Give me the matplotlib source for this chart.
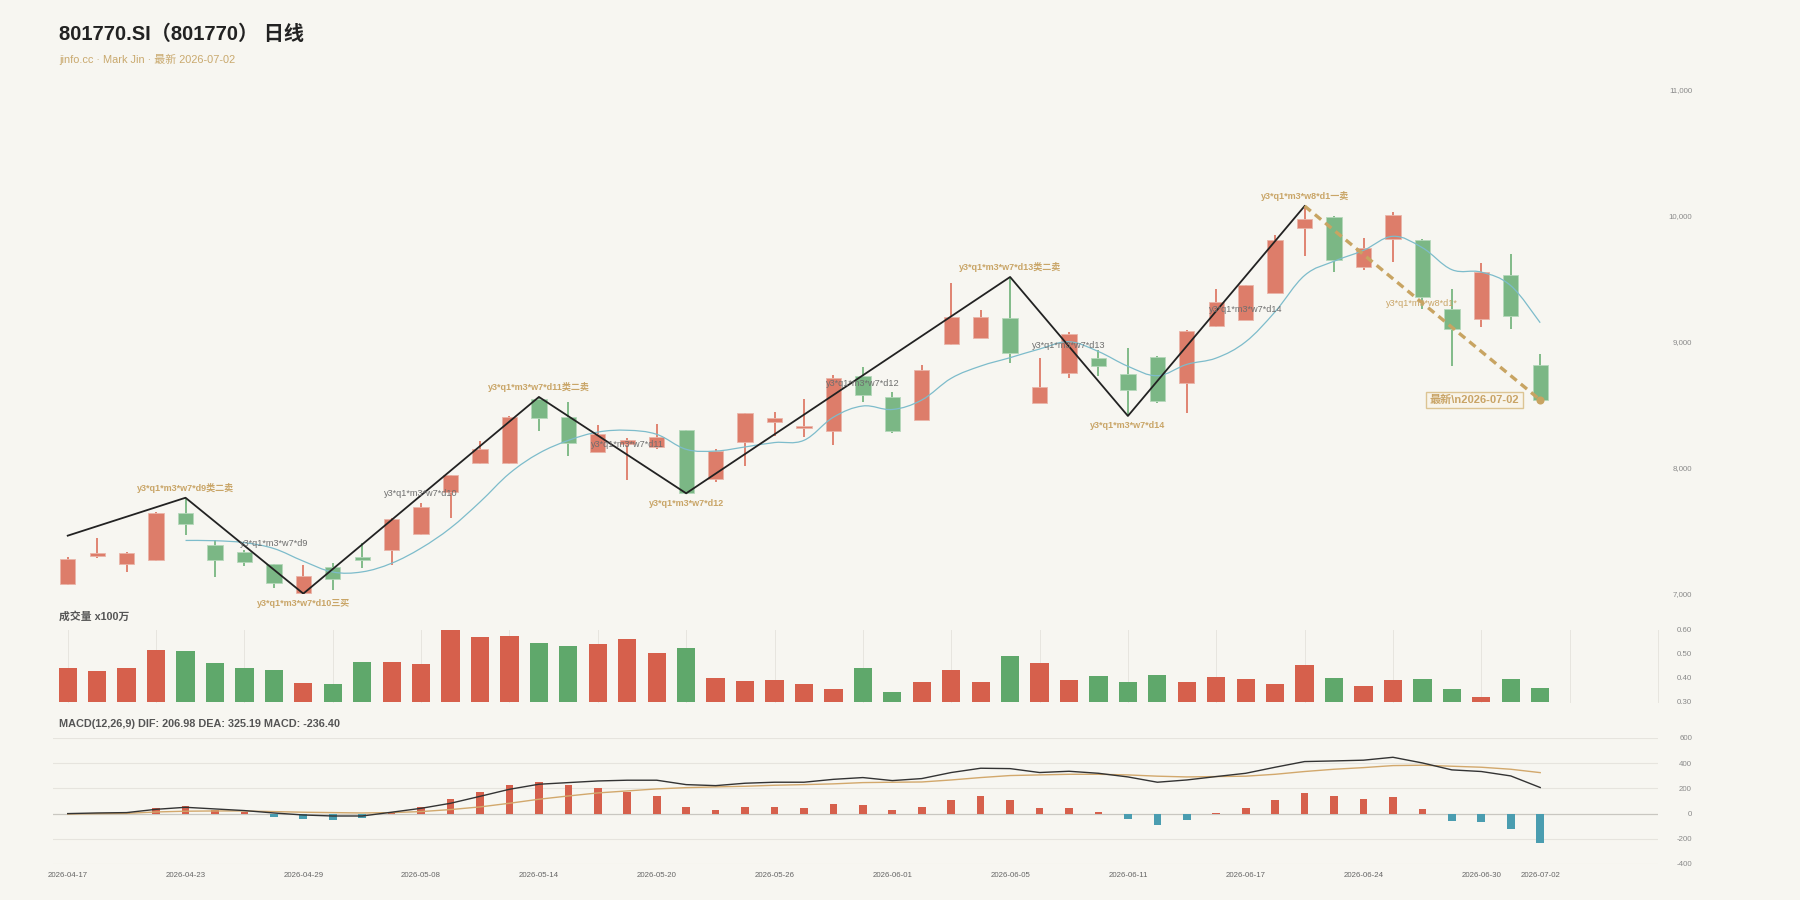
import matplotlib
matplotlib.use('Agg')
import matplotlib.pyplot as plt
import numpy as np
import pandas as pd
from matplotlib.path import Path
from matplotlib.patches import PathPatch

plt.rcParams['font.family'] = ['Liberation Sans', 'Noto Sans CJK SC']

# ---------------- data ----------------
dates = ['2026-04-17', '2026-04-20', '2026-04-21', '2026-04-22', '2026-04-23', '2026-04-24',
         '2026-04-27', '2026-04-28', '2026-04-29', '2026-04-30', '2026-05-06', '2026-05-07',
         '2026-05-08', '2026-05-11', '2026-05-12', '2026-05-13', '2026-05-14', '2026-05-15',
         '2026-05-18', '2026-05-19', '2026-05-20', '2026-05-21', '2026-05-22', '2026-05-25',
         '2026-05-26', '2026-05-27', '2026-05-28', '2026-05-29', '2026-06-01', '2026-06-02',
         '2026-06-03', '2026-06-04', '2026-06-05', '2026-06-08', '2026-06-09', '2026-06-10',
         '2026-06-11', '2026-06-12', '2026-06-15', '2026-06-16', '2026-06-17', '2026-06-18',
         '2026-06-22', '2026-06-23', '2026-06-24', '2026-06-25', '2026-06-26', '2026-06-29',
         '2026-06-30', '2026-07-01', '2026-07-02']

opens = [7079, 7304, 7236, 7267, 7640, 7389, 7333, 7236, 7005, 7217,
         7296, 7347, 7479, 7807, 8037, 8037, 8548, 8405, 8129, 8191,
         8164, 8302, 7913, 8204, 8363, 8315, 8294, 8728, 8564, 8381,
         8984, 9035, 9193, 8519, 8754, 8871, 8749, 8884, 8672, 9125,
         9178, 9392, 9907, 9992, 9598, 9818, 9813, 9260, 9183, 9532, 8815]
closes = [7278, 7328, 7323, 7643, 7553, 7267, 7251, 7090, 7143, 7122,
          7272, 7595, 7690, 7942, 8153, 8405, 8394, 8201, 8272, 8225,
          8244, 7799, 8133, 8434, 8400, 8333, 8717, 8577, 8296, 8775,
          9196, 9201, 8910, 8640, 9063, 8807, 8617, 8535, 9090, 9315,
          9453, 9810, 9974, 9653, 9746, 10011, 9357, 9103, 9556, 9209, 8540]
highs = [7290, 7447, 7331, 7651, 7764, 7429, 7349, 7240, 7230, 7243,
         7402, 7600, 7725, 7945, 8217, 8410, 8564, 8521, 8344, 8236,
         8349, 8305, 8151, 8436, 8447, 8550, 8738, 8802, 8606, 8818,
         9466, 9254, 9516, 8871, 9077, 8937, 8955, 8890, 9095, 9421,
         9455, 9847, 10079, 9998, 9826, 10029, 9815, 9421, 9624, 9699, 8905]
lows = [7070, 7288, 7175, 7262, 7468, 7135, 7220, 7050, 7003, 7032,
        7204, 7230, 7470, 7601, 8030, 8035, 8296, 8098, 8125, 7905,
        8151, 7795, 7886, 8016, 8254, 8249, 8183, 8521, 8275, 8378,
        8980, 9030, 8833, 8515, 8712, 8728, 8413, 8513, 8434, 9117,
        9175, 9390, 9683, 9558, 9572, 9638, 9262, 8810, 9122, 9103, 8535]

volumes = [0.440, 0.428, 0.442, 0.517, 0.514, 0.461, 0.443, 0.432, 0.379, 0.374,
           0.467, 0.467, 0.460, 0.599, 0.570, 0.575, 0.544, 0.535, 0.540, 0.564,
           0.504, 0.526, 0.399, 0.388, 0.392, 0.375, 0.356, 0.443, 0.343, 0.383,
           0.433, 0.383, 0.492, 0.461, 0.390, 0.407, 0.382, 0.412, 0.383, 0.405,
           0.394, 0.374, 0.454, 0.400, 0.368, 0.390, 0.397, 0.353, 0.320, 0.394, 0.358]

dif = [0, 5, 8, 34, 50, 37, 24, 5, -11, -19,
       -19, 11, 42, 82, 137, 193, 233, 246, 259, 265,
       265, 230, 222, 241, 249, 249, 272, 286, 262, 278,
       326, 360, 357, 326, 336, 320, 291, 249, 267, 294,
       320, 368, 413, 418, 424, 447, 402, 347, 334, 299, 206.98]
dea = [-3, 0, 2, 13, 19, 21, 21, 16, 11, 8,
       5, 8, 16, 32, 53, 82, 114, 140, 164, 180,
       196, 206, 212, 217, 225, 230, 236, 246, 249, 251,
       267, 286, 302, 307, 312, 312, 307, 297, 291, 294,
       297, 312, 334, 352, 365, 381, 384, 376, 368, 352, 325.19]
macd_hist = [0, 3, 3, 48, 64, 32, 16, -27, -43, -53,
             -35, 13, 56, 114, 169, 227, 249, 225, 201, 172,
             137, 50, 32, 52, 56, 42, 74, 72, 27, 50,
             111, 143, 111, 42, 48, 16, -43, -93, -51, 2,
             42, 111, 161, 137, 119, 130, 40, -58, -66, -119, -236.40]

# zigzag strokes (bi)
bi_idx = [0, 4, 8, 16, 21, 32, 36, 42]
bi_val = [7463, 7764, 7003, 8564, 7799, 9516, 8413, 10079]
last_bi_idx = [42, 50]
last_bi_val = [10079, 8540]

# signal labels at turning points (gold)
sig_idx = [4, 8, 16, 21, 32, 36, 42]
sig_val = [7764, 7003, 8564, 7799, 9516, 8413, 10079]
sig_text = ['y3*q1*m3*w7*d9类二卖', 'y3*q1*m3*w7*d10三买', 'y3*q1*m3*w7*d11类二卖',
            'y3*q1*m3*w7*d12', 'y3*q1*m3*w7*d13类二卖', 'y3*q1*m3*w7*d14',
            'y3*q1*m3*w8*d1一卖']
sig_up = [True, False, True, False, True, False, True]

# stroke labels (gray)
bl_idx = [7, 12, 19, 27, 34, 40]
bl_val = [7397, 7794, 8190, 8669, 8971, 9254]
bl_text = ['y3*q1*m3*w7*d9', 'y3*q1*m3*w7*d10', 'y3*q1*m3*w7*d11',
           'y3*q1*m3*w7*d12', 'y3*q1*m3*w7*d13', 'y3*q1*m3*w7*d14']
cur_label_idx = 46
cur_label_val = 9302
cur_label_text = 'y3*q1*m3*w8*d1*'

date_tick_idx = [0, 4, 8, 12, 16, 20, 24, 28, 32, 36, 40, 44, 48, 50]

price_ticks = [7000, 8000, 9000, 10000, 11000]
vol_ticks = [0.30, 0.40, 0.50, 0.60]
macd_ticks = [-400, -200, 0, 200, 400, 600]

# ---------------- style ----------------
BG = '#f7f6f1'
RED_BODY = '#dd7d6a'
RED_WICK = '#d9654f'
GRN_BODY = '#7bb785'
GRN_WICK = '#62ab6d'
RED_BAR = '#d6604c'
GRN_BAR = '#5fa86b'
GOLD = '#c9a567'
TEAL = '#7dbccb'
HIST_NEG = '#4a9db0'

x = np.arange(len(closes))
o = np.array(opens, float); c = np.array(closes, float)
h = np.array(highs, float); l = np.array(lows, float)
up = c >= o

fig = plt.figure(figsize=(18, 9), dpi=100, facecolor=BG)
L = 53 / 1800
W = (1658 - 53) / 1800
ax1 = fig.add_axes([L, 1 - 594 / 900, W, 504 / 900])
ax2 = fig.add_axes([L, 1 - 702 / 900, W, 72 / 900])
ax3 = fig.add_axes([L, 1 - 864 / 900, W, 126 / 900])

XMIN, XMAX = -0.5, 54
for ax in (ax1, ax2, ax3):
    ax.set_facecolor(BG)
    for s in ax.spines.values():
        s.set_visible(False)
    ax.set_xlim(XMIN, XMAX)
    ax.yaxis.tick_right()
    ax.tick_params(axis='y', length=0, pad=24.5, labelsize=5.7, labelcolor='#8a8a8a')
    ax.tick_params(axis='x', length=0)

# ---- price panel ----
body_w = 0.52
ax1.vlines(x[up], l[up], h[up], color=RED_WICK, lw=1.1, zorder=2)
ax1.vlines(x[~up], l[~up], h[~up], color=GRN_WICK, lw=1.1, zorder=2)
bottoms = np.minimum(o, c)
heights = np.maximum(np.abs(c - o), 12)
ax1.bar(x[up], heights[up], bottom=bottoms[up], width=body_w, color=RED_BODY,
        edgecolor='#eab5a9', linewidth=0.6, zorder=3)
ax1.bar(x[~up], heights[~up], bottom=bottoms[~up], width=body_w, color=GRN_BODY,
        edgecolor='#b5d8ba', linewidth=0.6, zorder=3)

# MA5 (smooth curve)
ma5 = pd.Series(closes, dtype=float).rolling(5).mean().to_numpy()
mx = x[4:].astype(float); my = ma5[4:]
verts = [(mx[0], my[0])]; codes = [Path.MOVETO]
n = len(mx); k = 0.18
for i in range(n - 1):
    p0 = i - 1 if i > 0 else i
    p3 = i + 2 if i + 2 < n else i + 1
    c1 = (mx[i] + (mx[i + 1] - mx[p0]) * k, my[i] + (my[i + 1] - my[p0]) * k)
    c2 = (mx[i + 1] - (mx[p3] - mx[i]) * k, my[i + 1] - (my[p3] - my[i]) * k)
    verts += [c1, c2, (mx[i + 1], my[i + 1])]
    codes += [Path.CURVE4] * 3
ax1.add_patch(PathPatch(Path(verts, codes), fill=False, edgecolor=TEAL, lw=0.9, zorder=4))

# zigzag
ax1.plot(bi_idx, bi_val, color='#222222', lw=1.3, zorder=5)
ax1.plot(last_bi_idx, last_bi_val, color='#c8a462', lw=2.4, ls=(0, (2.4, 1.6)), zorder=5)
ax1.scatter([last_bi_idx[-1]], [last_bi_val[-1]], s=34, color='#c8a462', zorder=6, linewidths=0)

for xi, yv, t, u in zip(sig_idx, sig_val, sig_text, sig_up):
    ax1.annotate(t, xy=(xi, yv), xytext=(0, 10 if u else -10), textcoords='offset pixels',
                 ha='center', va='center', fontsize=6.5, fontweight='bold', color=GOLD, zorder=7)
for xi, yv, t in zip(bl_idx, bl_val, bl_text):
    ax1.text(xi, yv, t, ha='center', va='center', fontsize=6.6, color='#6e6e6e', zorder=7)
ax1.text(cur_label_idx, cur_label_val, cur_label_text, ha='center', va='center',
         fontsize=6.6, color=GOLD, zorder=7)
ax1.annotate('最新\\n2026-07-02', xy=(last_bi_idx[-1], last_bi_val[-1]), xytext=(-21, 0),
             textcoords='offset pixels', ha='right', va='center', fontsize=8,
             fontweight='bold', color='#c9a466', zorder=8,
             bbox=dict(boxstyle='square,pad=0.3', fc='#f8f4ea', ec='#dcc493', lw=1.0))

ax1.set_ylim(7000, 11000)
ax1.set_yticks(price_ticks)
ax1.set_yticklabels([f'{v:,}' for v in price_ticks])
ax1.set_xticks([])

# ---- volume panel ----
for gx in range(0, 55, 3):
    ax2.plot([gx, gx], [0.3, 0.6], color='#e7e5df', lw=0.7, zorder=0, clip_on=False)
vcol = [RED_BAR if u else GRN_BAR for u in up]
vol = np.array(volumes)
ax2.bar(x, vol - 0.3, bottom=0.3, width=0.62, color=vcol, zorder=2)
ax2.set_ylim(0.3, 0.6)
ax2.set_yticks(vol_ticks)
ax2.set_yticklabels([f'{v:.2f}' for v in vol_ticks])
ax2.set_xticks([])

# ---- MACD panel ----
for gy in macd_ticks:
    ax3.axhline(gy, color='#c9c7c1' if gy == 0 else '#e6e4de', lw=0.9 if gy == 0 else 0.8, zorder=0)
hist = np.array(macd_hist)
hcol = [RED_BAR if v >= 0 else HIST_NEG for v in hist]
ax3.bar(x, hist, width=0.26, color=hcol, zorder=2)
ax3.plot(x, dea, color='#d2a86c', lw=1.0, zorder=3)
ax3.plot(x, dif, color='#333333', lw=1.0, zorder=4)
ax3.set_ylim(-400, 600)
ax3.set_yticks(macd_ticks)
ax3.set_yticklabels([str(v) for v in macd_ticks])
ax3.set_xticks(date_tick_idx)
ax3.set_xticklabels([dates[i] for i in date_tick_idx])
ax3.tick_params(axis='x', labelsize=5.7, labelcolor='#666666', pad=6)

for ax in (ax1, ax2, ax3):
    plt.setp(ax.get_yticklabels(), ha='right')

# ---- titles ----
fig.text(59 / 1800, 1 - 34 / 900, '801770.SI（801770） 日线', fontsize=14.5, fontweight='bold',
         color='#222222', va='center', ha='left')
fig.text(59 / 1800, 1 - 59 / 900, 'jinfo.cc · Mark Jin · 最新 2026-07-02', fontsize=7.9,
         color='#c9a96e', va='center', ha='left')
fig.text(59 / 1800, 1 - 616 / 900, '成交量 x100万', fontsize=7.8, fontweight='bold',
         color='#555555', va='center', ha='left')
fig.text(59 / 1800, 1 - 724 / 900, 'MACD(12,26,9) DIF: 206.98 DEA: 325.19 MACD: -236.40',
         fontsize=7.8, fontweight='bold', color='#555555', va='center', ha='left')

fig.savefig('out.png', dpi=100, facecolor=BG)
